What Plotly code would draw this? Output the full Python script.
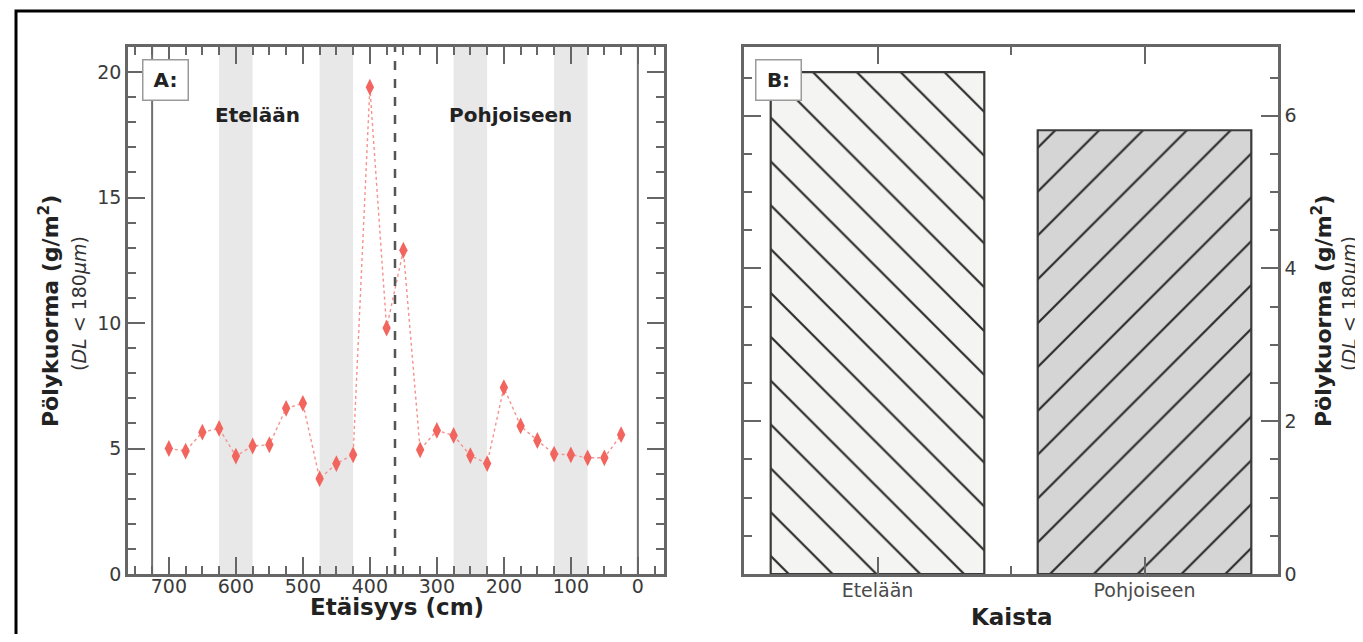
import plotly.graph_objects as go

# ---- data ----
distance_cm = [700, 675, 650, 625, 600, 575, 550, 525, 500, 475, 450, 425, 400, 375,
               350, 325, 300, 275, 250, 225, 200, 175, 150, 125, 100, 75, 50, 25]
dust_load = [5.0, 4.9, 5.65, 5.8, 4.7, 5.1, 5.15, 6.6, 6.8, 3.8, 4.4, 4.75, 19.4, 9.8,
             12.9, 4.95, 5.72, 5.52, 4.72, 4.4, 7.43, 5.9, 5.32, 4.78, 4.75, 4.63, 4.63, 5.55]
band_start = [575, 425, 225, 75]
band_end = [625, 475, 275, 125]
divider_cm = 362.5
edge_lines_cm = [725, 0]
x_ticks_cm = [700, 600, 500, 400, 300, 200, 100, 0]

lanes = ["Etelään", "Pohjoiseen"]
lane_pos = [0, 1]
lane_load = [6.57, 5.81]
lane_fill = ["#f4f4f2", "#d5d5d5"]
lane_hatch = ["\\", "/"]

FONT = "DejaVu Sans"
FRAME = "#666666"
OFF = 8                      # page body margin
W, H = 1363 - OFF, 642 - 2 * OFF
L = 128 - OFF
T = 47 - OFF
R = W - (1278 - OFF)
B = H - (574 - OFF)
PW, PH = W - L - R, H - T - B


def px_x(p):
    return (p - OFF - L) / PW


def px_y(p):
    return (H - B - (p - OFF)) / PH


fig = go.Figure()

# Panel A: line with markers
fig.add_trace(go.Scatter(
    x=distance_cm, y=dust_load, mode="lines+markers",
    line=dict(color="#f4928d", width=1.4, dash="dot"),
    marker=dict(symbol="diamond-tall", size=12, color="#f2645e"),
    xaxis="x", yaxis="y", showlegend=False,
))

# Panel B: bars (solid fill, then hatch + outline on top)
for i in range(len(lanes)):
    fig.add_trace(go.Bar(
        x=[lane_pos[i]], y=[lane_load[i]], width=0.8,
        marker=dict(color=lane_fill[i], line=dict(width=0)),
        xaxis="x2", yaxis="y2", showlegend=False, hoverinfo="skip",
    ))
    fig.add_trace(go.Bar(
        x=[lane_pos[i]], y=[lane_load[i]], width=0.8,
        marker=dict(color="#2a2a2a", line=dict(color="#3a3a3a", width=2.2),
                    pattern=dict(shape=lane_hatch[i], fgcolor="#2a2a2a",
                                 size=31, solidity=0.07, fillmode="replace")),
        xaxis="x2", yaxis="y2", showlegend=False, name=lanes[i],
    ))

shapes = []
for s, e in zip(band_start, band_end):
    shapes.append(dict(type="rect", xref="x", yref="y domain", x0=s, x1=e, y0=0, y1=1,
                       fillcolor="#e8e8e8", line=dict(width=0), layer="below"))
for xv in edge_lines_cm:
    shapes.append(dict(type="line", xref="x", yref="y domain", x0=xv, x1=xv, y0=0, y1=1,
                       line=dict(color="#707070", width=2), layer="below"))
shapes.append(dict(type="line", xref="x", yref="y domain", x0=divider_cm, x1=divider_cm,
                   y0=0, y1=1, line=dict(color="#555555", width=2.5, dash="dash")))
# outer black border
shapes.append(dict(type="rect", xref="paper", yref="paper",
                   x0=px_x(16), x1=1.3, y0=-0.3, y1=px_y(11),
                   line=dict(color="black", width=3), fillcolor="rgba(0,0,0,0)"))

tickfont = dict(family=FONT, size=19, color="#3a3a3a")
common = dict(showline=True, linecolor=FRAME, linewidth=2.5, mirror="ticks",
              ticks="inside", ticklen=17, tickwidth=2, tickcolor=FRAME,
              showgrid=False, zeroline=False, tickfont=tickfont)

fig.update_layout(
    width=W, height=H,
    margin=dict(l=L, r=R, t=T, b=B),
    paper_bgcolor="white", plot_bgcolor="white",
    font=dict(family=FONT, color="#222"),
    barmode="overlay",
    xaxis=dict(domain=[0, px_x(664)], range=[761, -39], anchor="y",
               tickvals=x_ticks_cm, ticklabelstandoff=-7,
               minor=dict(dtick=25, tick0=0, ticks="inside", ticklen=8, tickwidth=2,
                          tickcolor=FRAME),
               **common),
    yaxis=dict(domain=[0, 1], range=[0, 21], anchor="x", dtick=5,
               minor=dict(dtick=1, ticks="inside", ticklen=8, tickwidth=2, tickcolor=FRAME),
               **common),
    xaxis2=dict(domain=[px_x(744), 1], range=[-0.5, 1.5], anchor="y2",
                tickvals=lane_pos, ticktext=lanes, ticklabelstandoff=-3,
                minor=dict(dtick=0.5, tick0=0, ticks="inside", ticklen=8, tickwidth=2,
                           tickcolor=FRAME),
                **{**common, "tickfont": dict(family=FONT, size=19, color="#4a4a4a")}),
    yaxis2=dict(domain=[0, 1], range=[0, 6.9], anchor="x2", side="right", dtick=2,
                minor=dict(dtick=0.5, ticks="inside", ticklen=8, tickwidth=2, tickcolor=FRAME),
                **common),
    shapes=shapes,
)

ann = []


def add_text(text, x, y, size, color="#222", angle=0, **kw):
    ann.append(dict(text=text, x=px_x(x), y=px_y(y), xref="paper", yref="paper",
                    xanchor="center", yanchor="middle", showarrow=False, textangle=angle,
                    font=dict(family=FONT, size=size, color=color), **kw))


# axis titles
add_text("<b>Etäisyys (cm)</b>", 397, 607, 23)
add_text("<b>Kaista</b>", 1011, 617, 23)
for cx1, cx2 in [(49, 79), (1322, 1349)]:
    add_text("<b>Pölykuorma (g/m<sup>2</sup>)</b>", cx1, 311, 22, angle=-90)
    add_text("(<i>DL</i> < 180<i>μm</i>)", cx2, 304, 19, color="#333", angle=-90)
# panel labels
for lab, cx in [("A:", 165), ("B:", 778)]:
    add_text(f"<b>{lab}</b>", cx, 80, 20, width=40, height=35, borderpad=2, borderwidth=1.5,
             bordercolor="#9a9a9a", bgcolor="white")
add_text("<b>Etelään</b>", 257, 115, 20)
add_text("<b>Pohjoiseen</b>", 510, 115, 20)
fig.update_layout(annotations=ann)

fig.write_html("out.html")
